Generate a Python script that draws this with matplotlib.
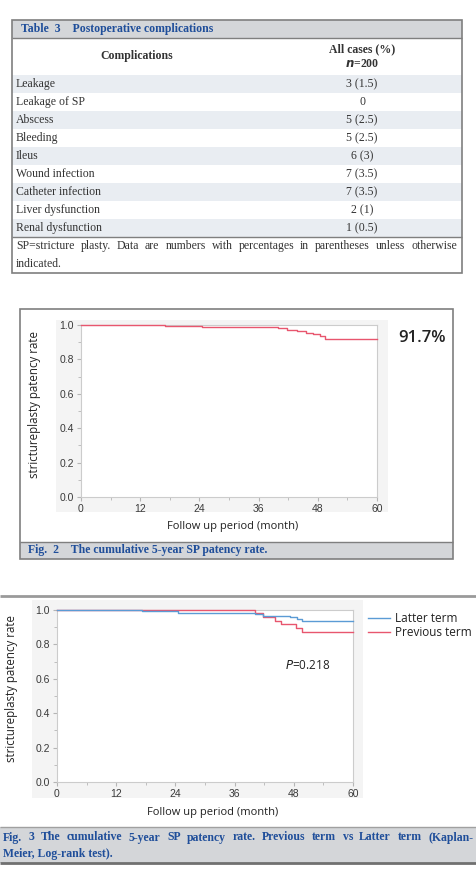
import matplotlib.pyplot as plt
from matplotlib.patches import Rectangle
from matplotlib.ticker import MultipleLocator

W, H = 476, 882

# table 3
complications = ['Leakage', 'Leakage of SP', 'Abscess', 'Bleeding', 'Ileus',
                 'Wound infection', 'Catheter infection', 'Liver dysfunction',
                 'Renal dysfunction']
cases = ['3 (1.5)', '0', '5 (2.5)', '5 (2.5)', '6 (3)', '7 (3.5)', '7 (3.5)',
         '2 (1)', '1 (0.5)']

# fig 2: all cases, KM steps (month, patency)
all_t = [0, 17, 24.5, 40, 41.7, 43.7, 45.7, 47, 48.5, 49.5, 60]
all_s = [1.0, 0.995, 0.99, 0.98, 0.972, 0.963, 0.955, 0.948, 0.937, 0.917, 0.917]

# fig 3: latter vs previous term
latter_t = [0, 17.2, 24.6, 40.1, 41.8, 47.2, 48.6, 49.6, 60]
latter_s = [1.0, 0.993, 0.982, 0.975, 0.967, 0.957, 0.948, 0.936, 0.936]
previous_t = [0, 40.1, 41.8, 44.2, 45.5, 48.4, 49.7, 60]
previous_s = [1.0, 0.981, 0.961, 0.936, 0.917, 0.897, 0.874, 0.874]

RED = '#e8566e'
BLUE = '#5b9bd5'
CAP_BLUE = '#1f4e9a'
BAND = '#d4d6d9'
EDGE = '#7f7f7f'
SERIF = 'Liberation Serif'
SANS = 'Open Sans'

fig = plt.figure(figsize=(W / 100, H / 100), dpi=100)
ov = fig.add_axes([0, 0, 1, 1], zorder=0)
ov.set_xlim(0, W)
ov.set_ylim(H, 0)
ov.axis('off')


def rect(x0, y0, x1, y1, **kw):
    ov.add_patch(Rectangle((x0, y0), x1 - x0, y1 - y0, **kw))


def hline(x0, x1, y, **kw):
    ov.plot([x0, x1], [y, y], solid_capstyle='butt', **kw)


def justify(words, x0, x1, y, **kw):
    r = fig.canvas.get_renderer()
    items = [ov.text(0, y, w, va='center', ha='left', **kw) for w in words]
    widths = [t.get_window_extent(r).width for t in items]
    gap = (x1 - x0 - sum(widths)) / (len(words) - 1)
    x = x0
    for t, w in zip(items, widths):
        t.set_x(x)
        x += w + gap


# ---- Table 3 ----
tx0, tx1, ty0, ty1 = 12, 462, 19.5, 273
rect(tx0, ty0, tx1, 38, fc=BAND, ec='none')
ov.text(21, 29, 'Table  3    Postoperative complications', fontsize=8.5,
        fontweight='bold', family=SERIF, color=CAP_BLUE, va='center')
hline(tx0, tx1, 38, color=EDGE, lw=1)
ov.text(137, 56, 'Complications', fontsize=8.5, fontweight='bold', family=SERIF,
        color='#333333', ha='center', va='center')
ov.text(362, 49, 'All cases (%)', fontsize=8.5, fontweight='bold', family=SERIF,
        color='#333333', ha='center', va='center')
ov.text(362, 64, '$\\mathbfit{n}$=200', fontsize=8.5, fontweight='bold', family=SERIF,
        color='#333333', ha='center', va='center')
row_h = 18
for i, (name, val) in enumerate(zip(complications, cases)):
    y0 = 75 + i * row_h
    if i % 2 == 0:
        rect(tx0, y0, tx1, y0 + row_h, fc='#e9edf2', ec='none')
    ov.text(16, y0 + row_h / 2, name, fontsize=8.5, family=SERIF, color='#333333',
            va='center')
    ov.text(362, y0 + row_h / 2, val, fontsize=8.5, family=SERIF, color='#333333',
            va='center', ha='center')
hline(tx0, tx1, 237, color=EDGE, lw=1)
justify('SP=stricture plasty. Data are numbers with percentages in parentheses unless otherwise'.split(),
        16, 457, 246, fontsize=8.5, family=SERIF, color='#333333')
ov.text(16, 264, 'indicated.', fontsize=8.5, family=SERIF, color='#333333', va='center')
rect(tx0, ty0, tx1, ty1, fc='none', ec=EDGE, lw=1.2)

# ---- Fig 2 frame ----
rect(20, 542, 453, 559, fc=BAND, ec='none')
hline(20, 453, 542, color=EDGE, lw=1)
rect(20, 309, 453, 559, fc='none', ec=EDGE, lw=1.2)
ov.text(28, 550.5, 'Fig.  2    The cumulative 5-year SP patency rate.', fontsize=8.5,
        fontweight='bold', family=SERIF, color=CAP_BLUE, va='center')
rect(56, 320, 388, 512, fc='#f4f4f4', ec='none')
ov.text(233, 527, 'Follow up period (month)', fontsize=8, family=SANS, color='#222222',
        ha='center', va='center')
ov.text(35, 405, 'strictureplasty patency rate', fontsize=8.3,
        family=SANS, color='#222222', ha='center', va='center', rotation=90)
ov.text(422, 338, '91.7%', fontsize=12, fontweight='semibold', family=SANS,
        color='#222222', ha='center', va='center')

# ---- Fig 3 frame ----
hline(0, W, 596, color='#9a9a9a', lw=2)
rect(0, 827, W, 863, fc=BAND, ec='none')
hline(0, W, 827, color='#a0a0a0', lw=1)
hline(0, W, 863, color='#707070', lw=2)
justify(['Fig.', '3', 'The', 'cumulative', '5-year', 'SP', 'patency', 'rate.', 'Previous',
         'term', 'vs', 'Latter', 'term', '(Kaplan-'], 3, 473, 837.5, fontsize=8.5,
        fontweight='bold', family=SERIF, color=CAP_BLUE)
ov.text(3, 854.5, 'Meier, Log-rank test).', fontsize=8.5, fontweight='bold', family=SERIF,
        color=CAP_BLUE, va='center')
rect(32, 600, 363, 798, fc='#f4f4f4', ec='none')
ov.text(213, 812, 'Follow up period (month)', fontsize=8, family=SANS, color='#222222',
        ha='center', va='center')
ov.text(12, 689, 'strictureplasty patency rate', fontsize=8.3, family=SANS,
        color='#222222', ha='center', va='center', rotation=90)
ov.plot([368, 390], [618, 618], color=BLUE, lw=1)
ov.plot([368, 390], [632, 632], color=RED, lw=1)
ov.text(395, 618, 'Latter term', fontsize=8.5, family=SANS, color='#222222', va='center')
ov.text(395, 632, 'Previous term', fontsize=8.5, family=SANS, color='#222222', va='center')


def km_axes(x0, y0, x1, y1):
    ax = fig.add_axes([x0 / W, 1 - y1 / H, (x1 - x0) / W, (y1 - y0) / H], zorder=2)
    ax.set_xlim(0, 60)
    ax.set_ylim(0, 1)
    ax.xaxis.set_major_locator(MultipleLocator(12))
    ax.xaxis.set_minor_locator(MultipleLocator(6))
    ax.yaxis.set_major_locator(MultipleLocator(0.2))
    ax.yaxis.set_minor_locator(MultipleLocator(0.1))
    ax.yaxis.set_major_formatter(lambda v, p: f'{v:.1f}')
    for s in ax.spines.values():
        s.set_color('#cccccc')
        s.set_linewidth(0.8)
    ax.tick_params(which='both', direction='out', color='#b5b5b5', labelsize=7.5,
                   labelcolor='#3a3a3a', pad=2)
    ax.tick_params(which='major', length=3)
    ax.tick_params(which='minor', length=2)
    for lab in ax.get_xticklabels() + ax.get_yticklabels():
        lab.set_family('Liberation Sans')
    return ax


ax2 = km_axes(81, 325, 377, 497)
ax2.step(all_t, all_s, where='post', color=RED, lw=1, clip_on=False, zorder=3)

ax3 = km_axes(57, 610, 353, 782)
ax3.step(previous_t, previous_s, where='post', color=RED, lw=1, clip_on=False, zorder=3)
ax3.step(latter_t, latter_s, where='post', color=BLUE, lw=1, clip_on=False, zorder=3)
ax3.text(46.2, 0.68, '$\\it{P}$=0.218', fontsize=8.5, family=SANS, color='#222222',
         va='center')

fig.savefig('out.png', dpi=100)
